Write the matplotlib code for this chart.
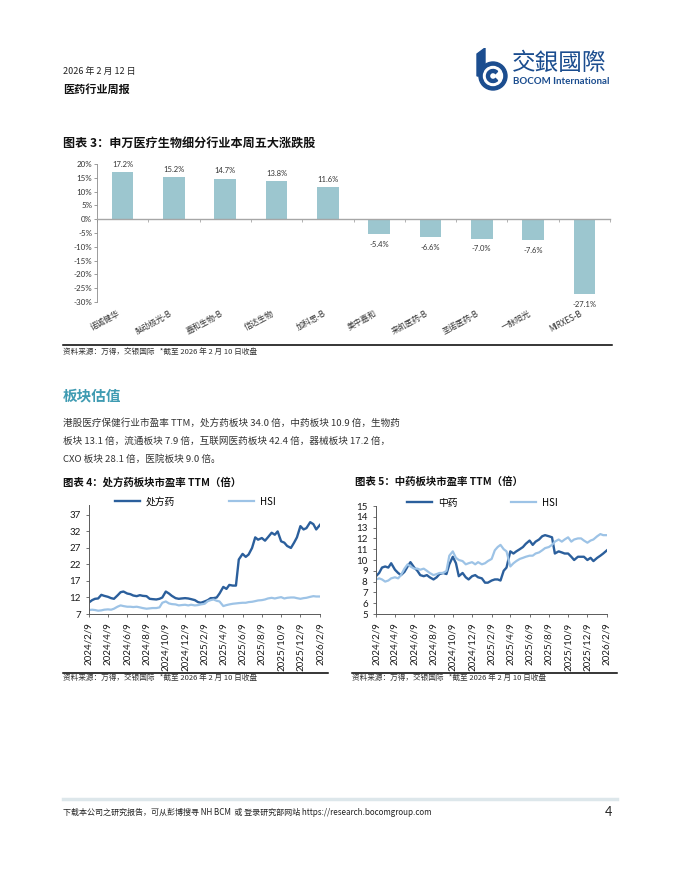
import matplotlib
matplotlib.use("Agg")
import matplotlib.pyplot as plt
import matplotlib.dates as mdates
from matplotlib.patches import Circle, Wedge, Polygon
from matplotlib.ticker import FuncFormatter, MultipleLocator
import pandas as pd

W, H = 680, 880
CJK = ["Noto Sans CJK SC", "DejaVu Sans"]
NUM = ["Lato", "Noto Sans CJK SC", "DejaVu Sans"]
plt.rcParams["font.family"] = CJK

DARK = "#2b5f9c"
LIGHT = "#9dc3e6"
BAR = "#9cc6cf"
TEAL = "#3f9bb2"

# chart 3: weekly top movers
stock_names = ["诺诚健华", "脑动极光-B", "嘉和生物-B", "信达生物", "加科思-B",
               "美中嘉和", "来凯医药-B", "圣诺医药-B", "一脉阳光", "MIRXES-B"]
weekly_change = [17.2, 15.2, 14.7, 13.8, 11.6, -5.4, -6.6, -7.0, -7.6, -27.1]

# charts 4 and 5: PE TTM, three readings per month (9th, 19th, 28th)
months = pd.period_range("2024-02", "2026-02", freq="M")
pe_dates = [pd.Timestamp(p.year, p.month, d) for p in months for d in (9, 19, 28)][:-2]

rx_pe = [10.5, 11.2, 11.6, 11.7, 12.8, 12.5, 12.2, 11.8, 11.6, 12.6, 13.6, 13.8,
         13.2, 13.0, 12.6, 12.4, 12.7, 12.5, 12.4, 11.6, 11.5, 11.4, 11.6, 12.0,
         13.8, 13.2, 12.5, 11.8, 11.6, 11.7, 11.8, 11.7, 11.5, 11.2, 10.6, 10.4,
         10.8, 11.2, 11.8, 11.8, 12.0, 13.2, 15.2, 14.6, 15.8, 15.6, 15.6, 23.5,
         25.2, 24.3, 25.0, 27.0, 30.2, 29.5, 30.0, 29.2, 30.2, 31.6, 31.0, 32.0,
         29.0, 28.6, 27.6, 27.0, 28.6, 30.2, 33.6, 32.6, 33.0, 34.8, 34.2, 32.6,
         34.0]

tcm_pe = [8.5, 8.8, 9.3, 9.4, 9.3, 9.7, 9.1, 8.8, 8.6, 8.9, 9.4, 9.8,
          9.3, 9.0, 8.6, 8.5, 8.6, 8.4, 8.2, 8.4, 8.7, 8.8, 8.7, 9.6,
          10.3, 9.7, 8.5, 8.8, 8.4, 8.2, 8.5, 8.6, 8.4, 8.3, 7.9, 7.9,
          8.1, 8.2, 8.2, 8.1, 9.0, 9.3, 10.8, 10.6, 10.8, 11.0, 11.2, 11.5,
          11.8, 11.4, 11.7, 11.9, 12.2, 12.3, 12.2, 12.1, 10.6, 10.8, 10.7, 10.6,
          10.6, 10.3, 10.0, 10.3, 10.3, 10.3, 10.0, 10.2, 9.9, 10.2, 10.4, 10.6,
          10.9]

hsi_pe = [8.2, 8.3, 8.2, 8.0, 8.1, 8.3, 8.4, 8.3, 8.6, 9.2, 9.6, 9.4,
          9.2, 9.2, 9.1, 9.2, 9.0, 8.8, 8.6, 8.7, 8.8, 8.8, 9.0, 10.4,
          10.8, 10.2, 10.0, 9.9, 9.6, 9.7, 9.8, 9.6, 9.8, 9.6, 9.7, 9.9,
          10.1, 10.9, 11.2, 11.4, 11.0, 10.8, 9.4, 9.7, 9.9, 10.1, 10.2, 10.3,
          10.4, 10.4, 10.6, 10.7, 10.9, 11.1, 11.2, 11.4, 11.7, 11.9, 11.7, 11.9,
          12.1, 11.7, 11.9, 12.0, 12.0, 11.8, 11.6, 11.8, 11.9, 12.2, 12.4, 12.3,
          12.3]

rx_ticks = [7, 12, 17, 22, 27, 32, 37]
tcm_ticks = [5, 6, 7, 8, 9, 10, 11, 12, 13, 14, 15]

SOURCE = "资料来源：万得，交银国际   *截至 2026 年 2 月 10 日收盘"


def box(left, top, right, bottom):
    return [left / W, 1 - bottom / H, (right - left) / W, (bottom - top) / H]


def put(x, y, s, **kw):
    kw.setdefault("va", "center")
    fig.text(x / W, 1 - y / H, s, **kw)


def hline(x0, x1, y, **kw):
    fig.add_artist(plt.Line2D([x0 / W, x1 / W], [1 - y / H, 1 - y / H], **kw))


def pe_chart(ax, values, name, ymax, ticks):
    ax.plot(pe_dates, values, color=DARK, lw=1.7, label=name)
    ax.plot(pe_dates, hsi_pe, color=LIGHT, lw=1.6, label="HSI")
    ax.set_xlim(pe_dates[0], pe_dates[-1])
    ax.set_ylim(ticks[0], ymax)
    ax.set_yticks(ticks)
    ax.xaxis.set_major_locator(mdates.MonthLocator(bymonth=(2, 4, 6, 8, 10, 12), bymonthday=9))
    ax.xaxis.set_major_formatter(FuncFormatter(
        lambda v, p: (lambda d: f"{d.year}/{d.month}/{d.day}")(mdates.num2date(v))))
    for side in ("top", "right"):
        ax.spines[side].set_visible(False)
    for side in ("left", "bottom"):
        ax.spines[side].set_color("#595959")
        ax.spines[side].set_linewidth(0.7)
    ax.tick_params(length=2.5, width=0.6, color="#595959", labelsize=7, labelcolor="#1a1a1a")
    plt.setp(ax.get_xticklabels(), rotation=90, family=NUM)
    plt.setp(ax.get_yticklabels(), family=NUM)
    ax.legend(loc="center", bbox_to_anchor=(0.46, 1.03), ncol=2, frameon=False,
              fontsize=7, handlelength=2.6, columnspacing=5.5, handletextpad=0.6)


fig = plt.figure(figsize=(W / 100, H / 100), dpi=100)

# header
put(63, 71, "2026 年 2 月 12 日", fontsize=6.5, color="#222222")
put(63, 89, "医药行业周报", fontsize=8, weight="bold", color="#111111")

logo = fig.add_axes(box(474, 48, 510, 92))
logo.set_xlim(0, 36)
logo.set_ylim(0, 44)
logo.axis("off")
logo.add_patch(Polygon([(3, 16), (3, 38), (11, 44), (11, 16)], color="#1b4d8f"))
logo.add_patch(Circle((19, 16), 14, color="#1b4d8f"))
logo.add_patch(Circle((19, 16), 9.5, color="white"))
logo.add_patch(Wedge((19, 16), 6.5, 45, 315, width=3, color="#1b4d8f"))
put(512, 63, "交銀國際", fontsize=17, color="#1b4d8f",
    family=["Noto Sans CJK TC", "DejaVu Sans"])
put(513, 82, "BOCOM International", fontsize=7, weight="bold", color="#1b4d8f", family=NUM)

# chart 3
put(63, 144, "图表 3：申万医疗生物细分行业本周五大涨跌股", fontsize=8.7, weight="bold", color="#111111")
ax3 = fig.add_axes(box(97, 164, 610, 302))
x_pos = list(range(len(stock_names)))
ax3.bar(x_pos, weekly_change, width=0.42, color=BAR)
ax3.set_xlim(-0.5, len(stock_names) - 0.5)
ax3.set_ylim(-30, 20)
ax3.yaxis.set_major_locator(MultipleLocator(5))
ax3.yaxis.set_major_formatter(FuncFormatter(lambda v, p: f"{v:.0f}%"))
for side in ("top", "right"):
    ax3.spines[side].set_visible(False)
ax3.spines["left"].set_color("#8c8c8c")
ax3.spines["left"].set_linewidth(0.6)
ax3.spines["bottom"].set_position(("data", 0))
ax3.spines["bottom"].set_color("#a6a6a6")
ax3.spines["bottom"].set_linewidth(1.0)
ax3.set_xticks([i - 0.5 for i in x_pos] + [len(stock_names) - 0.5])
ax3.set_xticklabels([])
ax3.tick_params(axis="x", length=2, width=0.6, color="#a6a6a6")
ax3.tick_params(axis="y", length=2, width=0.6, color="#8c8c8c", labelsize=5.8,
                labelcolor="#333333", pad=1.5)
plt.setp(ax3.get_yticklabels(), family=NUM)
for i, v in zip(x_pos, weekly_change):
    ax3.annotate(f"{v:.1f}%", (i, v), xytext=(0, 3 if v > 0 else -5),
                 textcoords="offset points", ha="center", va="bottom" if v > 0 else "top",
                 fontsize=5.5, color="#333333", family=NUM)
    ax3.text(i - 0.1, -0.05, stock_names[i], transform=ax3.get_xaxis_transform(),
             rotation=28, rotation_mode="anchor", ha="right", va="top",
             fontsize=5.8, color="#333333")

hline(63, 612, 345, color="black", lw=1.1)
put(63, 353, SOURCE, fontsize=5.5, color="#333333", style="italic")

# text section
put(63, 395, "板块估值", fontsize=10.5, weight="bold", color=TEAL)
para = ["港股医疗保健行业市盈率 TTM，处方药板块 34.0 倍，中药板块 10.9 倍，生物药",
        "板块 13.1 倍，流通板块 7.9 倍，互联网医药板块 42.4 倍，器械板块 17.2 倍，",
        "CXO 板块 28.1 倍，医院板块 9.0 倍。"]
for k, line in enumerate(para):
    put(63, 423 + 18 * k, line, fontsize=6.9, color="#333333")

# charts 4 and 5
put(63, 482, "图表 4：处方药板块市盈率 TTM（倍）", fontsize=7.5, weight="bold", color="#111111")
put(355, 482, "图表 5：中药板块市盈率 TTM（倍）", fontsize=7.5, weight="bold", color="#111111")

ax4 = fig.add_axes(box(89, 505, 320, 614))
pe_chart(ax4, rx_pe, "处方药", 40, rx_ticks)
ax5 = fig.add_axes(box(376, 506, 607, 614))
pe_chart(ax5, tcm_pe, "中药", 15, tcm_ticks)

hline(63, 328, 673, color="black", lw=1.1)
hline(352, 617, 673, color="black", lw=1.1)
put(63, 679, SOURCE, fontsize=5.5, color="#333333", style="italic")
put(352, 679, SOURCE, fontsize=5.5, color="#333333", style="italic")

# footer
hline(63, 617, 799, color="#dde7eb", lw=2.5)
put(63, 812, "下载本公司之研究报告，可从彭博搜寻 NH BCM  或 登录研究部网站 https://research.bocomgroup.com",
    fontsize=5.8, color="#222222")
put(612, 812, "4", fontsize=9, color="#222222", ha="right", family=NUM)

fig.savefig("out.png", dpi=100)
